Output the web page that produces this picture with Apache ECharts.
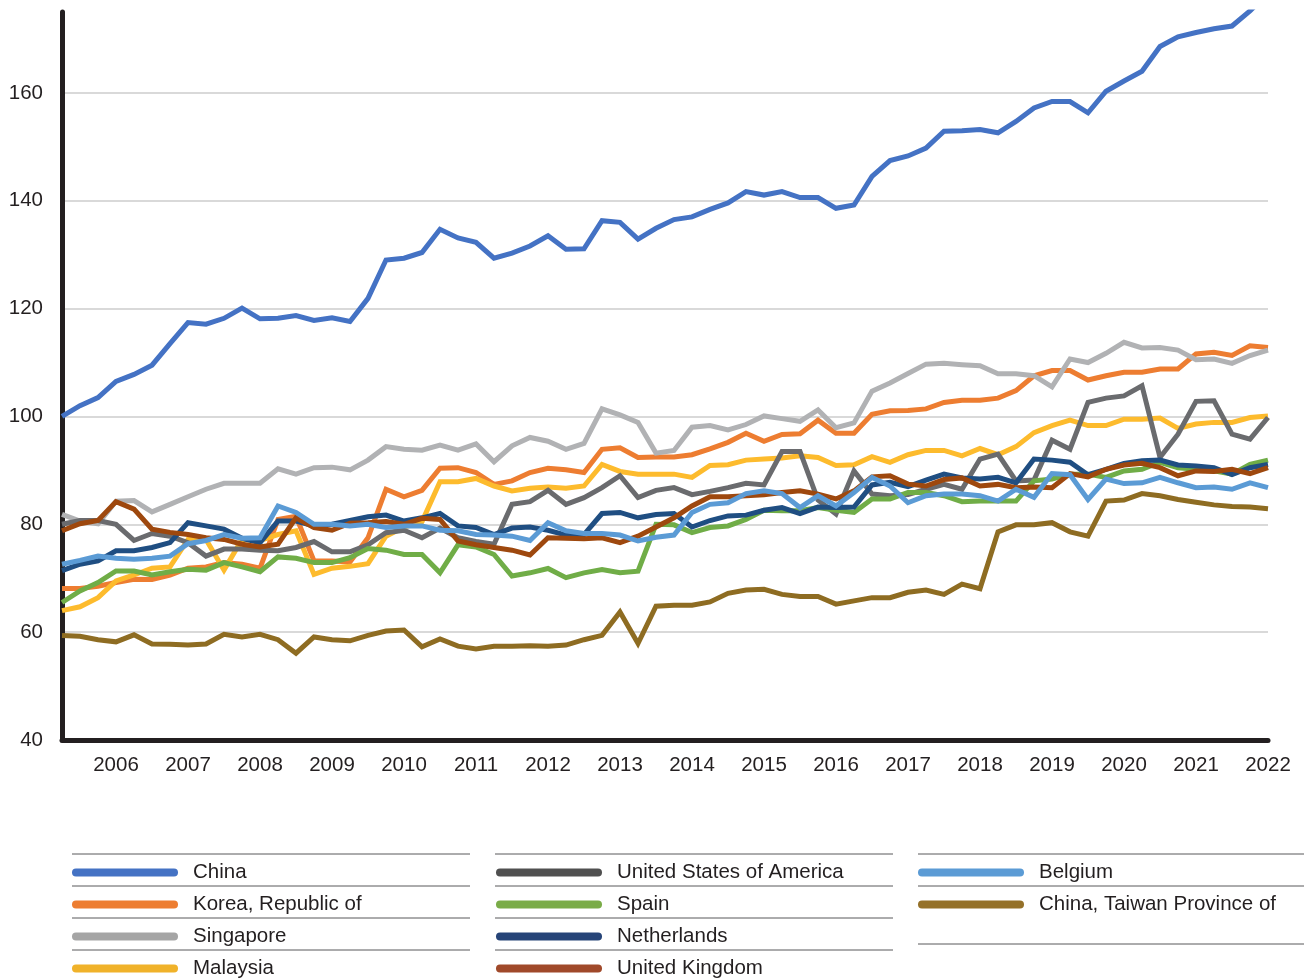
<!DOCTYPE html>
<html>
<head>
<meta charset="utf-8">
<script src="https://cdn.jsdelivr.net/npm/echarts@6/dist/echarts.min.js"></script>
<style>
  html, body { margin: 0; padding: 0; background: #ffffff; }
  #chart { width: 1304px; height: 979px; }
</style>
</head>
<body>
<div id="chart"></div>
<script>
// Quarterly categories 2006 Q1 .. 2022 Q4
const quarters = [];
for (let y = 2006; y <= 2022; y++) for (let q = 1; q <= 4; q++) quarters.push(y + ' Q' + q);

const yTicks = [40, 60, 80, 100, 120, 140, 160];

const seriesNames = ['China', 'Korea, Republic of', 'Singapore', 'Malaysia',
  'United States of America', 'Spain', 'Netherlands', 'United Kingdom',
  'Belgium', 'China, Taiwan Province of'];

const china = [100, 102, 103.5, 106.5, 107.8, 109.5, 113.5, 117.4, 117.1, 118.2, 120.1, 118.1, 118.2, 118.7, 117.8, 118.3, 117.6,
  121.9, 129.0, 129.35, 130.4, 134.7, 133.1, 132.3, 129.35, 130.3, 131.6, 133.5, 131.0, 131.1, 136.3, 136.0, 132.9, 134.9, 136.5, 137.0,
  138.4, 139.6, 141.7, 141.05, 141.7, 140.6, 140.6, 138.6, 139.2, 144.5, 147.45, 148.3, 149.75, 152.9, 153.0, 153.2, 152.6,
  154.7, 157.2, 158.4, 158.4, 156.3, 160.3, 162.2, 164.0, 168.6, 170.4, 171.2, 171.9, 172.4, 175.2, 178.5];

const korea = [68.1, 68.1, 68.5, 69.2, 69.8, 69.75, 70.6, 71.85, 72.1, 72.9, 72.6, 71.85, 80.9, 81.5, 73.2, 73.2, 73.0,
  77.5, 86.5, 85.1, 86.3, 90.4, 90.5, 89.6, 87.4, 88.05, 89.6, 90.4, 90.1, 89.6, 93.9, 94.2, 92.4, 92.5,
  92.5, 92.9, 94.0, 95.2, 96.9, 95.4, 96.65, 96.8, 99.3, 96.9, 96.9, 100.4, 101.05, 101.1, 101.4, 102.6, 103.0,
  103.0, 103.4, 104.8, 107.55, 108.5, 108.5, 106.75, 107.55, 108.2, 108.2, 108.8, 108.8, 111.6, 111.9, 111.3, 113.1, 112.8];

const singapore = [81.85, 80.6, 80.1, 84.3, 84.4, 82.3, 83.7, 85.1, 86.5, 87.6, 87.6, 87.6, 90.3, 89.3, 90.5, 90.6, 90.1,
  91.9, 94.4, 93.9, 93.75, 94.7, 93.75, 94.9, 91.6, 94.55, 96.1, 95.4, 93.9, 95.0, 101.4, 100.3, 98.9, 93.2,
  93.7, 98.0, 98.3, 97.5, 98.5, 100.1, 99.6, 99.1, 101.2, 97.9, 98.8, 104.7, 106.2, 107.95, 109.7, 109.85, 109.6,
  109.4, 107.9, 107.9, 107.55, 105.5, 110.65, 110.0, 111.7, 113.75, 112.7, 112.8, 112.3, 110.5, 110.65, 109.85, 111.3, 112.3];

const malaysia = [64.0, 64.7, 66.4, 69.5, 70.6, 71.85, 72.1, 77.2, 77.2, 71.5, 77.2, 77.0, 78.1, 78.8, 70.7, 71.85, 72.2,
  72.7, 77.8, 79.5, 80.5, 87.9, 87.9, 88.5, 87.1, 86.2, 86.7, 86.9, 86.7, 87.1, 91.1, 89.8, 89.3, 89.3,
  89.3, 88.7, 90.9, 91.05, 91.9, 92.1, 92.3, 92.7, 92.4, 90.9, 91.05, 92.55, 91.5, 92.9, 93.7, 93.7, 92.7,
  94.05, 92.9, 94.4, 97.0, 98.3, 99.3, 98.3, 98.3, 99.5, 99.5, 99.7, 97.8, 98.6, 98.9, 98.9, 99.8, 100.1];

const usa = [80.0, 80.7, 80.7, 80.0, 77.0, 78.3, 77.8, 76.6, 74.1, 75.4, 75.4, 75.2, 75.1, 75.7, 76.8, 74.9, 74.9,
  76.2, 78.45, 78.9, 77.5, 79.3, 77.5, 76.8, 76.3, 83.7, 84.2, 86.3, 83.7, 84.95, 86.8, 89.0, 84.95, 86.3,
  86.8, 85.5, 86.1, 86.8, 87.6, 87.3, 93.5, 93.5, 84.5, 81.9, 89.9, 85.6, 85.3, 85.5, 86.5, 87.4, 86.5,
  92.1, 93.0, 88.05, 88.2, 95.6, 93.9, 102.6, 103.4, 103.8, 105.7, 92.4, 96.7, 102.8, 102.9, 96.7, 95.8, 99.8];

const spain = [65.5, 67.65, 69.2, 71.35, 71.35, 70.6, 71.2, 71.65, 71.5, 72.9, 72.1, 71.2, 73.95, 73.7, 72.9, 72.9, 73.8,
  75.5, 75.2, 74.4, 74.4, 71.0, 76.2, 75.8, 74.4, 70.4, 71.0, 71.8, 70.1, 71.0, 71.6, 71.0, 71.3, 80.0,
  79.9, 78.45, 79.4, 79.7, 80.9, 82.6, 82.5, 82.5, 83.1, 82.6, 82.2, 84.7, 84.7, 85.9, 85.9, 85.3, 84.2,
  84.3, 84.3, 84.3, 88.05, 88.4, 89.3, 89.3, 88.7, 89.9, 90.2, 91.5, 90.5, 90.2, 89.9, 89.3, 91.1, 91.9];

const netherlands = [71.4, 72.6, 73.2, 75.1, 75.1, 75.7, 76.6, 80.3, 79.7, 79.1, 77.4, 76.6, 80.6, 80.6, 79.7, 80.0, 80.7,
  81.4, 81.7, 80.6, 81.2, 82.0, 79.7, 79.4, 78.1, 79.3, 79.5, 78.9, 78.0, 78.1, 82.0, 82.2, 81.2, 81.8,
  82.0, 79.5, 80.7, 81.55, 81.7, 82.6, 83.1, 82.0, 83.2, 83.1, 83.2, 87.3, 87.8, 87.0, 88.2, 89.3, 88.6,
  88.4, 88.7, 87.7, 92.1, 91.9, 91.5, 89.2, 90.2, 91.3, 91.8, 91.9, 91.0, 90.8, 90.5, 89.2, 90.5, 91.1];

const uk = [78.8, 80.1, 80.7, 84.2, 82.8, 79.1, 78.5, 78.1, 77.5, 77.2, 76.3, 75.8, 76.3, 81.2, 79.4, 78.9, 80.2,
  80.3, 80.5, 80.0, 81.1, 80.9, 76.9, 76.2, 75.7, 75.2, 74.3, 77.5, 77.4, 77.3, 77.5, 76.6, 77.8, 79.5,
  81.2, 83.4, 85.1, 85.1, 85.3, 85.5, 85.9, 86.2, 85.6, 84.7, 86.2, 88.8, 89.0, 87.45, 87.1, 88.3, 88.6,
  87.1, 87.4, 86.8, 86.9, 86.8, 89.4, 88.8, 90.2, 91.0, 91.3, 90.5, 89.0, 89.9, 89.8, 90.2, 89.4, 90.5];

const belgium = [72.6, 73.3, 74.1, 73.7, 73.5, 73.7, 74.1, 76.4, 77.0, 78.1, 77.4, 77.5, 83.4, 82.2, 80.0, 80.0, 79.7,
  80.0, 79.4, 79.7, 79.7, 78.9, 78.8, 78.1, 78.0, 77.8, 77.0, 80.3, 78.8, 78.3, 78.3, 78.0, 76.9, 77.6,
  78.0, 82.2, 83.7, 84.0, 85.7, 86.2, 85.7, 83.1, 85.3, 83.4, 85.9, 88.7, 87.1, 84.0, 85.3, 85.6, 85.6,
  85.3, 84.3, 86.5, 85.0, 89.4, 89.2, 84.6, 88.4, 87.55, 87.7, 88.7, 87.7, 86.8, 86.9, 86.5, 87.7, 86.8];

const taiwan = [59.4, 59.25, 58.6, 58.2, 59.5, 57.8, 57.75, 57.6, 57.8, 59.6, 59.1, 59.6, 58.6, 56.1, 59.1, 58.6, 58.4,
  59.4, 60.2, 60.4, 57.3, 58.75, 57.4, 56.9, 57.4, 57.4, 57.5, 57.4, 57.6, 58.6, 59.4, 63.75, 57.9, 64.8,
  65.0, 65.0, 65.6, 67.2, 67.8, 67.95, 67.0, 66.6, 66.6, 65.2, 65.8, 66.4, 66.4, 67.4, 67.8, 67.0, 68.9,
  68.05, 78.6, 79.9, 79.9, 80.3, 78.6, 77.8, 84.3, 84.5, 85.7, 85.3, 84.6, 84.1, 83.6, 83.3, 83.2, 82.9];

const seriesData = [china, korea, singapore, malaysia, usa, spain, netherlands, uk, belgium, taiwan];
const lineColors = ['#4472C4', '#ED7D31', '#B1B2B4', '#FDBB2D', '#6A6B6E', '#70AD47', '#1F4E82', '#9E480E', '#5B9BD5', '#8E6C22'];
const legendColors = ['#4472C4', '#ED7D31', '#A5A5A5', '#F0B22A', '#505050', '#7AAC48', '#264478', '#A0492A', '#5B9BD5', '#957129'];

const FONT = '"Liberation Sans", Arial, Helvetica, sans-serif';
const TXT = '#231f20';
const pill = 'path://M4,0L102,0A4,4,0,0,1,102,8L4,8A4,4,0,0,1,4,0Z';

const chart = echarts.init(document.getElementById('chart'), null, { renderer: 'canvas' });

function legendCol(names, left) {
  return {
    orient: 'vertical',
    left: left,
    top: 862,
    height: 125,
    padding: 0,
    itemWidth: 106,
    itemHeight: 8,
    itemGap: 11,
    icon: pill,
    itemStyle: { borderWidth: 0 },
    selectedMode: false,
    data: names,
    formatter: n => '{t|' + n + '}',
    textStyle: {
      rich: { t: { fontSize: 20.5, lineHeight: 22, color: TXT, fontFamily: FONT, padding: [0, 0, 0, 10] } }
    }
  };
}

const rules = [];
function rule(x1, x2, y) {
  rules.push({ type: 'line', shape: { x1: x1, y1: y, x2: x2, y2: y }, style: { stroke: '#58595b', lineWidth: 1 }, silent: true });
}
[854, 886, 918, 950].forEach(y => { rule(72, 470, y); rule(495, 893, y); });
[854, 886, 944].forEach(y => rule(918, 1304, y));

const option = {
  backgroundColor: '#ffffff',
  animation: false,
  grid: { left: 62, right: 36, top: 12, bottom: 239, containLabel: false },
  xAxis: {
    type: 'category',
    data: quarters,
    boundaryGap: false,
    axisLine: { show: true, lineStyle: { color: TXT, width: 5 } },
    axisTick: { show: false },
    splitLine: { show: false },
    axisLabel: {
      interval: (idx) => idx % 4 === 3,
      formatter: v => v.slice(0, 4),
      color: TXT, fontSize: 20.5, fontFamily: FONT, margin: 15
    }
  },
  yAxis: {
    type: 'value',
    min: yTicks[0],
    max: 175,
    interval: 20,
    axisLine: { show: true, lineStyle: { color: TXT, width: 5 } },
    axisTick: { show: false },
    splitLine: { show: true, showMaxLine: false, showMinLine: false, lineStyle: { color: '#d9d9d9', width: 2 } },
    axisLabel: {
      showMaxLabel: false,
      formatter: v => (yTicks.indexOf(v) >= 0 ? String(v) : ''),
      color: TXT, fontSize: 20.5, fontFamily: FONT, margin: 19
    }
  },
  legend: [
    legendCol(seriesNames.slice(0, 4), 72),
    legendCol(seriesNames.slice(4, 8), 496),
    legendCol(seriesNames.slice(8, 10), 918)
  ],
  graphic: rules,
  series: seriesNames.map((name, k) => ({
    name: name,
    type: 'line',
    data: seriesData[k],
    symbol: 'none',
    color: legendColors[k],
    lineStyle: { color: lineColors[k], width: 5, join: 'miter' },
    itemStyle: { color: legendColors[k], borderWidth: 0 },
    z: 2 + k,
    clip: true
  }))
};

chart.setOption(option);
</script>
</body>
</html>
